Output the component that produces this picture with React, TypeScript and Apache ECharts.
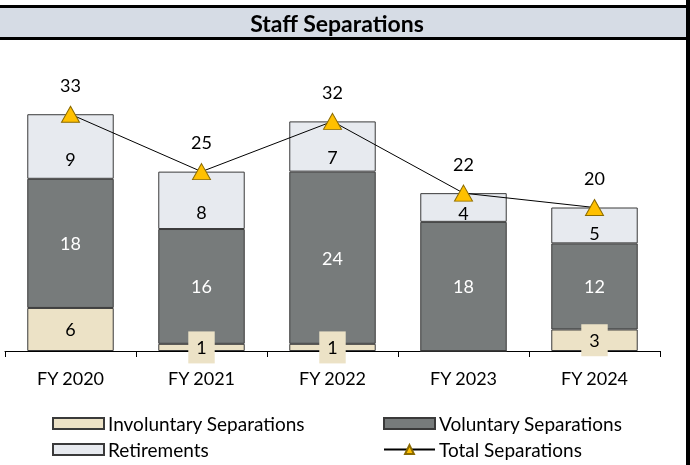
import React, { useEffect, useRef } from "react";
import * as echarts from "echarts";

const categories = ["FY 2020", "FY 2021", "FY 2022", "FY 2023", "FY 2024"];
const involuntary = [6, 1, 1, 0, 3];
const voluntary = [18, 16, 24, 18, 12];
const retirements = [9, 8, 7, 4, 5];
const totals = [33, 25, 32, 22, 20];

const FONT = "Lato, 'Noto Sans', sans-serif";

export default function App() {
  const ref = useRef<HTMLDivElement>(null);
  useEffect(() => {
    if (!ref.current) return;
    const chart = echarts.init(ref.current, null, { renderer: "svg" });
    const border = { borderColor: "#3a3a3a", borderWidth: 1 };
    const legendBase = {
      padding: 0,
      itemWidth: 51,
      itemHeight: 11,
      itemGap: 5,
      textStyle: { fontSize: 19, color: "#000", fontFamily: FONT, lineHeight: 18, padding: [0, 0, 0, -1] },
      selectedMode: false,
    };
    chart.setOption({
      animation: false,
      textStyle: { fontFamily: FONT },
      graphic: [
        { type: "rect", shape: { x: 0, y: 5, width: 690, height: 3 }, style: { fill: "#000" } },
        { type: "rect", shape: { x: 0, y: 8, width: 686, height: 29 }, style: { fill: "#d6dce5" } },
        { type: "rect", shape: { x: 0, y: 37, width: 690, height: 3 }, style: { fill: "#000" } },
        { type: "rect", shape: { x: 686, y: 0, width: 4, height: 465 }, style: { fill: "#000" } },
        {
          type: "text",
          x: 337,
          y: 22.5,
          style: {
            text: "Staff Separations",
            textAlign: "center",
            textVerticalAlign: "middle",
            fontSize: 23,
            fontWeight: "bold",
            fill: "#000",
            fontFamily: FONT,
          },
        },
      ],
      legend: [
        { ...legendBase, data: [{ name: "Involuntary Separations", icon: "rect" }], left: 52, top: 414 },
        { ...legendBase, data: [{ name: "Voluntary Separations", icon: "rect" }], left: 383, top: 414 },
        { ...legendBase, data: [{ name: "Retirements", icon: "rect" }], left: 52, top: 440 },
        { ...legendBase, data: ["Total Separations"], left: 383, top: 440 },
      ],
      grid: { left: 5, right: 30, top: 64, bottom: 114 },
      xAxis: {
        type: "category",
        data: categories,
        axisLine: { lineStyle: { color: "#000", width: 1 } },
        axisTick: { show: true, length: 6, lineStyle: { color: "#000" } },
        axisLabel: { fontSize: 18, color: "#000", margin: 17, lineHeight: 20, fontFamily: FONT },
      },
      yAxis: { type: "value", min: 0, max: 40, show: false, splitLine: { show: false } },
      series: [
        {
          name: "Involuntary Separations",
          type: "bar",
          stack: "s",
          barWidth: "66%",
          data: involuntary.map((v) => (v === 0 ? { value: v, label: { show: false } } : v)),
          itemStyle: { color: "#ece2c6", ...border },
          label: {
            show: true,
            position: "inside",
            fontSize: 18,
            color: "#000",
            backgroundColor: "#ece2c6",
            padding: [7, 8],
            fontFamily: FONT,
          },
        },
        {
          name: "Voluntary Separations",
          type: "bar",
          stack: "s",
          barWidth: "66%",
          data: voluntary,
          itemStyle: { color: "#777b7b", ...border },
          label: { show: true, position: "inside", fontSize: 18, color: "#fff", fontFamily: FONT },
        },
        {
          name: "Retirements",
          type: "bar",
          stack: "s",
          barWidth: "66%",
          data: retirements,
          itemStyle: { color: "#e7eaef", ...border },
          label: {
            show: true,
            position: ["50%", "70%"],
            align: "center",
            verticalAlign: "middle",
            fontSize: 18,
            color: "#000",
            fontFamily: FONT,
          },
        },
        {
          name: "Total Separations",
          type: "line",
          data: totals,
          z: 10,
          symbol: "triangle",
          symbolSize: [18, 16],
          lineStyle: { color: "#000", width: 1 },
          itemStyle: { color: "#ffc000", borderColor: "#8a6a00", borderWidth: 1 },
          label: { show: true, position: "top", distance: 12, fontSize: 18, color: "#000", fontFamily: FONT },
        },
      ],
    });
    return () => chart.dispose();
  }, []);
  return <div ref={ref} style={{ position: "fixed", left: 0, top: 0, width: 690, height: 465 }} />;
}
